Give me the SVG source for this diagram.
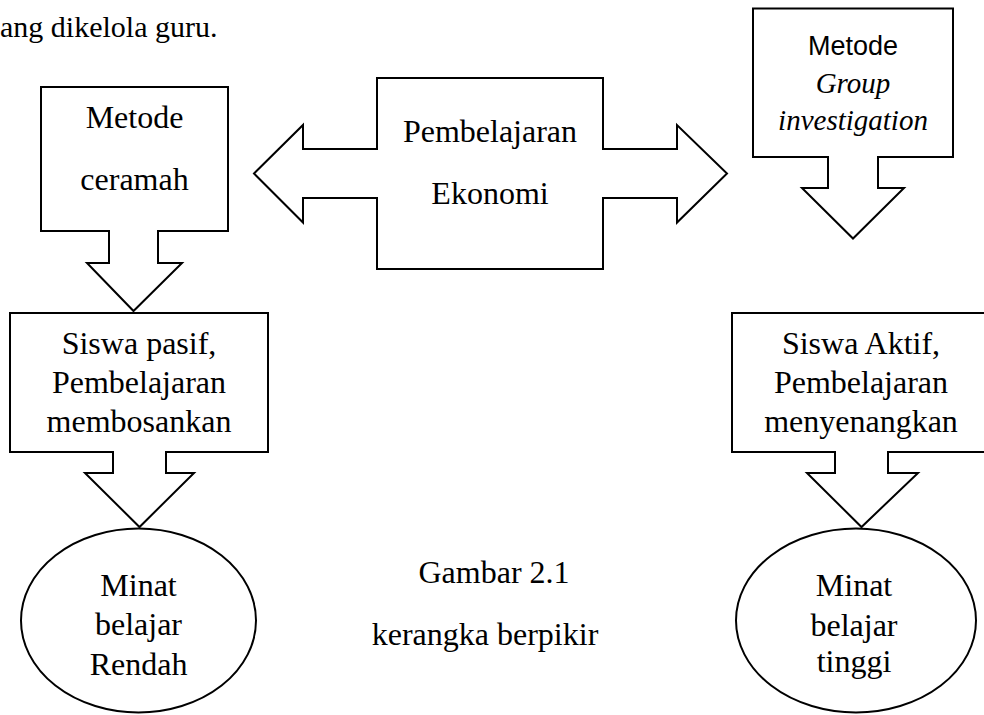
<svg xmlns="http://www.w3.org/2000/svg" width="984" height="715" viewBox="0 0 984 715">
<style>
.s{fill:#fff;stroke:#000;stroke-width:2;stroke-linejoin:miter;stroke-linecap:square}
.t{font-family:"Liberation Serif","Times New Roman",serif;font-size:32px;fill:#000;text-anchor:middle}
.i{font-style:italic;font-size:29px}
.a{font-family:"Liberation Sans",Arial,sans-serif;font-size:27px;fill:#000;text-anchor:middle}
</style>
<rect width="984" height="715" fill="#fff"/>
<text x="0" y="37" style="font-family:'Liberation Serif','Times New Roman',serif;font-size:30px">ang dikelola guru.</text>

<g id="connectors">
<path class="s" d="M109,231 V263 H87 L133.5,311 L182,263 H158 V231"/>
<path class="s" d="M377,149 H303 V125 L254,173.5 L303,222.5 V198 H377"/>
<path class="s" d="M603,149 H677 V125 L727,173.5 L677,222.5 V198 H603"/>
<path class="s" d="M828,157 V188 H802 L853,238.5 L904,188 H878 V157"/>
<path class="s" d="M113,452 V473 H85 L139.5,527 L194,473 H166 V452"/>
<path class="s" d="M835,452 V473 H807 L861.5,527 L918,473 H888 V452"/>
</g>

<g id="node-ceramah">
<path class="s" d="M109,231 H41 V87 H228 V231 H158"/>
<text class="t" x="134.5" y="128">Metode</text>
<text class="t" x="134.5" y="190">ceramah</text>
</g>

<g id="node-ekonomi">
<rect x="377" y="78" width="226" height="191" fill="#fff"/>
<path class="s" d="M377,149 V78 H603 V149 M603,198 V269 H377 V198" fill="none"/>
<text class="t" x="490" y="142">Pembelajaran</text>
<text class="t" x="490" y="204">Ekonomi</text>
</g>

<g id="node-gi">
<path class="s" d="M828,157 H753 V8.5 H953 V157 H878"/>
<text class="a" x="853" y="55">Metode</text>
<text class="t i" x="853" y="93">Group</text>
<text class="t i" x="853" y="130">investigation</text>
</g>

<g id="node-pasif">
<path class="s" d="M113,452 H10 V313 H268 V452 H166"/>
<text class="t" x="139" y="354">Siswa pasif,</text>
<text class="t" x="139" y="393">Pembelajaran</text>
<text class="t" x="139" y="432">membosankan</text>
</g>

<g id="node-aktif">
<path class="s" d="M835,452 H732 V313 H992 V452 H888"/>
<text class="t" x="861" y="354">Siswa Aktif,</text>
<text class="t" x="861" y="393">Pembelajaran</text>
<text class="t" x="861" y="432">menyenangkan</text>
</g>

<g id="node-rendah">
<ellipse class="s" cx="138.5" cy="620.5" rx="117.5" ry="92"/>
<text class="t" x="138.5" y="596">Minat</text>
<text class="t" x="138.5" y="635">belajar</text>
<text class="t" x="138.5" y="675">Rendah</text>
</g>

<g id="node-tinggi">
<ellipse class="s" cx="856" cy="620.5" rx="120" ry="92"/>
<text class="t" x="854" y="596">Minat</text>
<text class="t" x="854" y="636">belajar</text>
<text class="t" x="854" y="672">tinggi</text>
</g>

<g id="caption">
<text class="t" x="494" y="583">Gambar 2.1</text>
<text class="t" x="485" y="645">kerangka berpikir</text>
</g>
</svg>
